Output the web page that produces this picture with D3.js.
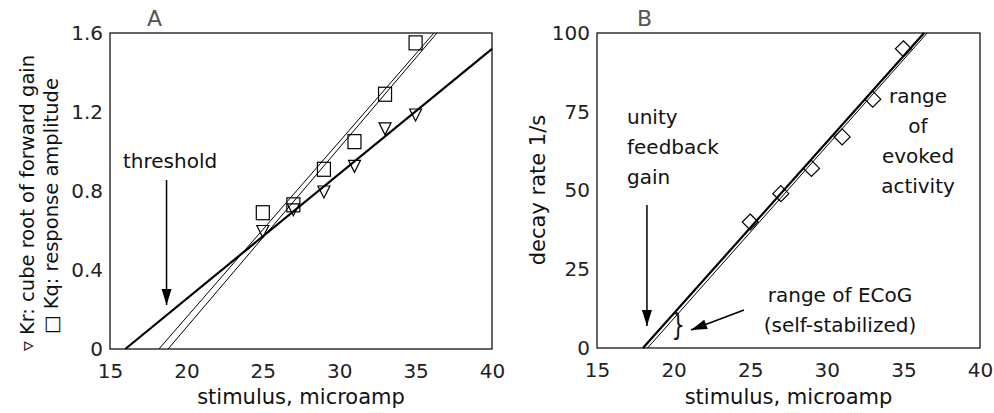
<!DOCTYPE html><html><head><meta charset="utf-8"><script src="https://cdn.jsdelivr.net/npm/d3@7"></script>
<style>body{margin:0;background:#fff}text{font-family:"DejaVu Sans",Verdana,sans-serif}</style></head><body>
<svg id="c" width="994" height="413"></svg>
<script>
const xTicks=[15,20,25,30,35,40];
const aYTicks=[0,0.4,0.8,1.2,1.6];
const bYTicks=[0,25,50,75,100];
const stim=[25,27,29,31,33,35];
const kq=[0.69,0.73,0.91,1.05,1.29,1.55];
const kr=[0.60,0.71,0.80,0.93,1.12,1.19];
const decay=[40,49,57,67,79,95];
const aThick=[[16,0],[40,1.52]];
const aThin1=[[18.2,0],[36.2,1.6]];
const aThin2=[[18.8,0],[36.4,1.6]];
const bThick=[[18,0],[36.35,100]];
const bThin=[[18.3,0],[36.55,100]];

const svg=d3.select("#c");
const FF="DejaVu Sans,Verdana,sans-serif";
function axes(x,y,yt,fmt){
  const g=svg.append("g");
  g.append("rect").attr("x",x.range()[0]).attr("y",y.range()[1]).attr("width",x.range()[1]-x.range()[0]).attr("height",y.range()[0]-y.range()[1]).attr("fill","none").attr("stroke","#000").attr("stroke-width",1.2);
  const xa=g.append("g").attr("transform",`translate(0,${y.range()[0]})`).call(d3.axisBottom(x).tickValues(xTicks).tickSize(0).tickPadding(15));
  const ya=g.append("g").attr("transform",`translate(${x.range()[0]},0)`).call(d3.axisLeft(y).tickValues(yt).tickSize(0).tickPadding(7).tickFormat(fmt));
  [xa,ya].forEach(a=>{a.select(".domain").remove();a.selectAll("text").attr("font-size",20).attr("fill","#222").style("font-family",FF)});
  return g;
}
function line(x,y,pts,w){svg.append("path").attr("d",d3.line().x(d=>x(d[0])).y(d=>y(d[1]))(pts)).attr("stroke","#000").attr("stroke-width",w).attr("fill","none");}
function arrow(x1,y1,x2,y2){
  svg.append("line").attr("x1",x1).attr("y1",y1).attr("x2",x2).attr("y2",y2).attr("stroke","#000").attr("stroke-width",1.5);
  const a=Math.atan2(y2-y1,x2-x1),L=16,W=5;
  const p=[[x2,y2],[x2-L*Math.cos(a)+W*Math.sin(a),y2-L*Math.sin(a)-W*Math.cos(a)],[x2-L*Math.cos(a)-W*Math.sin(a),y2-L*Math.sin(a)+W*Math.cos(a)]];
  svg.append("polygon").attr("points",p.join(" ")).attr("fill","#000");
}
function txt(x,y,s,anchor,size){return svg.append("text").attr("x",x).attr("y",y).attr("text-anchor",anchor||"start").attr("font-size",size||20).attr("fill","#111").text(s);}

// Panel A
const xa=d3.scaleLinear().domain([15,40]).range([110,492]);
const ya=d3.scaleLinear().domain([0,1.6]).range([349,33]);
axes(xa,ya,aYTicks,d=>d===0?"0":d3.format(".1f")(d));
line(xa,ya,aThick,2.2);line(xa,ya,aThin1,1);line(xa,ya,aThin2,1);
svg.append("g").selectAll("rect").data(stim).join("rect").attr("x",(d,i)=>xa(d)-6.5).attr("y",(d,i)=>ya(kq[i])-7).attr("width",13).attr("height",14).attr("fill","none").attr("stroke","#000").attr("stroke-width",1.2);
svg.append("g").selectAll("path").data(stim).join("path").attr("transform",(d,i)=>`translate(${xa(d)},${ya(kr[i])})`).attr("d","M-6,-5L6,-5L0,7Z").attr("fill","none").attr("stroke","#000").attr("stroke-width",1.2);
arrow(xa(18.7),180,xa(18.7),305);
txt(123,168,"threshold");
txt(147,26,"A","start",22).attr("fill","#555");
txt(xa(27.5),404,"stimulus, microamp","middle",21);
txt(0,0,"▿ Kr: cube root of forward gain","middle",19.5).attr("transform","translate(34,203) rotate(-90)");
txt(0,0,"□ Kq: response amplitude","middle",19.5).attr("transform","translate(58,206) rotate(-90)");

// Panel B
const xb=d3.scaleLinear().domain([15,40]).range([597,980]);
const yb=d3.scaleLinear().domain([0,100]).range([348,33]);
axes(xb,yb,bYTicks,d3.format("d"));
line(xb,yb,bThick,2.2);line(xb,yb,bThin,1);
svg.append("g").selectAll("path").data(stim).join("path").attr("transform",(d,i)=>`translate(${xb(d)},${yb(decay[i])})`).attr("d","M0,-8L8,0L0,8L-8,0Z").attr("fill","none").attr("stroke","#000").attr("stroke-width",1.2);
arrow(xb(18.26),205,xb(18.26),326);
["unity","feedback","gain"].forEach((s,i)=>txt(627,124+i*30,s));
["range","of","evoked","activity"].forEach((s,i)=>txt(918,103+i*30,s,"middle"));
txt(840,302,"range of ECoG","middle");
txt(840,332,"(self-stabilized)","middle");
arrow(744,310,691,330);
txt(0,0,"}","middle",30).attr("transform",`translate(${xb(20.3)},335) scale(0.7,1)`);
txt(637,26,"B","start",22).attr("fill","#555");
txt(xb(27.5),404,"stimulus, microamp","middle",21);
txt(0,0,"decay rate 1/s","middle",21).attr("transform","translate(545,190) rotate(-90)");
</script></body></html>
